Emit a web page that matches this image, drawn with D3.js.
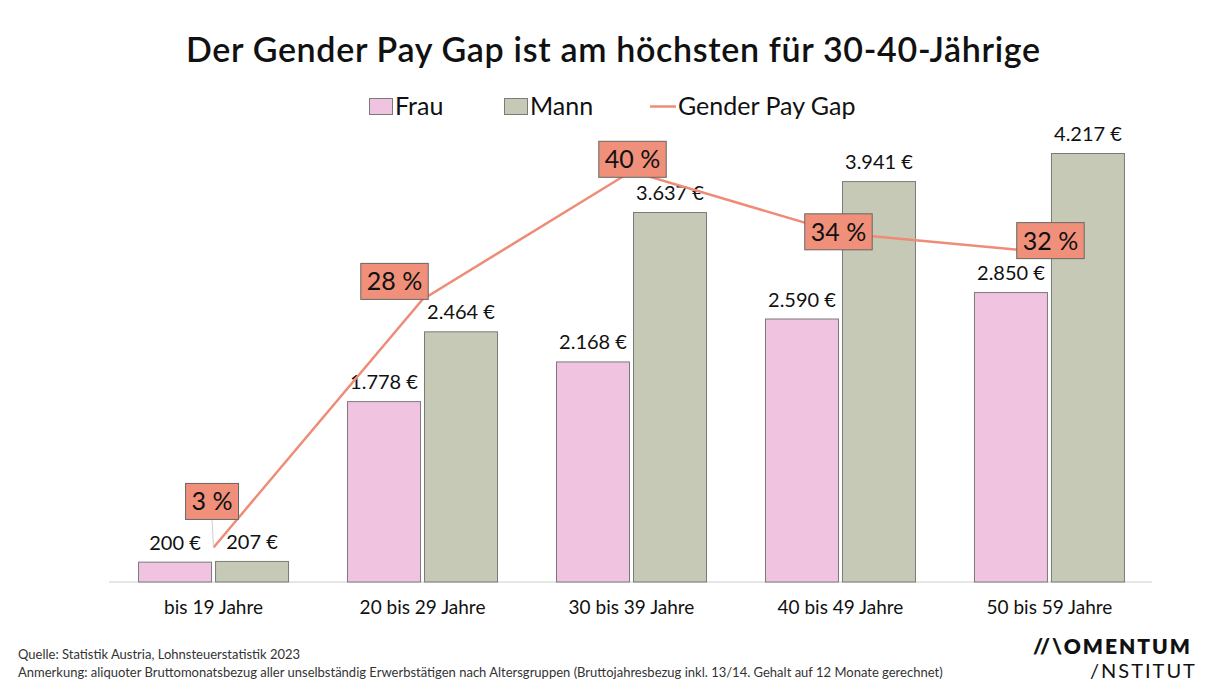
<!DOCTYPE html>
<html>
<head>
<meta charset="utf-8">
<script src="https://cdn.jsdelivr.net/npm/d3@7"></script>
<style>
  html, body { margin: 0; padding: 0; background: #fff; }
  svg { display: block; font-family: "Lato", "Inter", sans-serif; }
</style>
</head>
<body>
<svg id="chart" width="1208" height="682"></svg>
<script>
// ---------- data ----------
const categories = ["bis 19 Jahre", "20 bis 29 Jahre", "30 bis 39 Jahre", "40 bis 49 Jahre", "50 bis 59 Jahre"];
const frau = [200, 1778, 2168, 2590, 2850];
const mann = [207, 2464, 3637, 3941, 4217];
const gap = [3.4, 27.8, 40.4, 34.3, 32.4];
const seriesNames = ["Frau", "Mann", "Gender Pay Gap"];

// ---------- styles ----------
const colFrau = "#F0C4E0", colMann = "#C6C9B5", colLine = "#EF8C78", colBox = "#F0907B";
const barStroke = "#7a7a7a";
// label offsets (dx, dy) of the gap boxes relative to their point, and leader flag
const gapLabelOffset = [[-1.5, -46, true], [-28, -18, false], [1, -12, false], [-2, -1.5, false], [1, -12, false]];

const svg = d3.select("#chart");
const de = d3.formatLocale({ decimal: ",", thousands: ".", grouping: [3], currency: ["", " €"] });
const fmt = de.format(",.0f");

const x0 = d3.scaleBand().domain(categories).range([109, 1154]).paddingInner(0.2775).paddingOuter(0.139);
const x1 = d3.scaleBand().domain(["Frau", "Mann"]).range([0, x0.bandwidth()]).paddingInner(0.039);
const y = d3.scaleLinear().domain([0, 4217]).range([582, 153]);
const yGap = d3.scaleLinear().domain([0, 42.2]).range([582, 153]);

// title
svg.append("text").attr("x", 613).attr("y", 62).attr("text-anchor", "middle")
  .attr("font-size", 34).attr("font-weight", 600).attr("fill", "#111")
  .attr("textLength", 854).attr("lengthAdjust", "spacing")
  .text("Der Gender Pay Gap ist am höchsten für 30-40-Jährige");

// legend
const lg = svg.append("g").attr("font-size", 25).attr("fill", "#111");
lg.append("rect").attr("x", 369.5).attr("y", 98.5).attr("width", 23).attr("height", 16).attr("fill", colFrau).attr("stroke", barStroke);
lg.append("text").attr("x", 395).attr("y", 115).text(seriesNames[0]);
lg.append("rect").attr("x", 504.5).attr("y", 98.5).attr("width", 23).attr("height", 16).attr("fill", colMann).attr("stroke", barStroke);
lg.append("text").attr("x", 530).attr("y", 115).text(seriesNames[1]);
lg.append("line").attr("x1", 650).attr("x2", 676).attr("y1", 106.5).attr("y2", 106.5).attr("stroke", colLine).attr("stroke-width", 2.5);
lg.append("text").attr("x", 678).attr("y", 115).text(seriesNames[2]);

// axis baseline
svg.append("line").attr("x1", 109).attr("x2", 1152).attr("y1", 582).attr("y2", 582).attr("stroke", "#e6e6e6").attr("stroke-width", 2);

// bars
const groups = svg.append("g").selectAll("g").data(categories).join("g")
  .attr("transform", d => `translate(${x0(d)},0)`);
const barData = (d, i) => [{ k: "Frau", v: frau[i] }, { k: "Mann", v: mann[i] }];
groups.selectAll("rect").data(barData).join("rect")
  .attr("x", d => x1(d.k) + 0.5).attr("width", x1.bandwidth() - 1)
  .attr("y", d => y(d.v) + 0.5).attr("height", d => y(0) - y(d.v) - 0.5)
  .attr("fill", d => d.k === "Frau" ? colFrau : colMann)
  .attr("stroke", barStroke).attr("stroke-width", 1);
groups.selectAll("text.val").data(barData).join("text").attr("class", "val")
  .attr("x", d => x1(d.k) + x1.bandwidth() / 2).attr("y", d => y(d.v) - 12)
  .attr("text-anchor", "middle").attr("font-size", 20).attr("fill", "#111")
  .text(d => fmt(d.v) + " €");

// x axis labels
const xAxis = d3.axisBottom(x0).tickSize(0).tickPadding(0);
const xg = svg.append("g").attr("transform", "translate(0,582)").call(xAxis);
xg.select(".domain").remove();
xg.selectAll("text").attr("font-size", 19).attr("fill", "#111").attr("dy", 0).attr("y", 32)
  .style("font-family", "Lato, Inter, sans-serif");

// gap line
const cx = i => x0(categories[i]) + x0.bandwidth() / 2;
const line = d3.line().x((d, i) => cx(i)).y(d => yGap(d));
svg.append("path").datum(gap).attr("d", line).attr("fill", "none").attr("stroke", colLine).attr("stroke-width", 2.5);

// gap labels
const gl = svg.append("g");
gap.forEach((v, i) => {
  const px = cx(i), py = yGap(v);
  const [dx, dy, leader] = gapLabelOffset[i];
  const g = gl.append("g").attr("transform", `translate(${px + dx},${py + dy})`);
  const t = g.append("text").attr("text-anchor", "middle").attr("y", 9).attr("font-size", 25)
    .attr("fill", "#111").text(Math.round(v) + " %");
  const w = t.node().getComputedTextLength() + 12, h = 36;
  if (leader) {
    gl.insert("line", ":first-child").attr("x1", px + dx).attr("x2", px).attr("y1", py + dy + h / 2).attr("y2", py)
      .attr("stroke", "#cfcfcf").attr("stroke-width", 1);
  }
  g.insert("rect", "text").attr("x", -w / 2).attr("y", -h / 2).attr("width", w).attr("height", h)
    .attr("fill", colBox).attr("stroke", "#666").attr("stroke-width", 1);
});

// footnotes
const fn = svg.append("g").attr("font-size", 13).attr("fill", "#333");
fn.append("text").attr("x", 18).attr("y", 659).text("Quelle: Statistik Austria, Lohnsteuerstatistik 2023");
fn.append("text").attr("x", 18).attr("y", 677).text("Anmerkung: aliquoter Bruttomonatsbezug aller unselbständig Erwerbstätigen nach Altersgruppen (Bruttojahresbezug inkl. 13/14. Gehalt auf 12 Monate gerechnet)");

// logo
svg.append("text").attr("x", 1033).attr("y", 654).attr("font-size", 21).attr("font-weight", 800).attr("fill", "#111")
  .attr("letter-spacing", 2).text("//\\OMENTUM");
svg.append("text").attr("x", 1090).attr("y", 678).attr("font-size", 20).attr("font-weight", 400).attr("fill", "#111")
  .attr("letter-spacing", 2).text("/NSTITUT");
</script>
</body>
</html>
